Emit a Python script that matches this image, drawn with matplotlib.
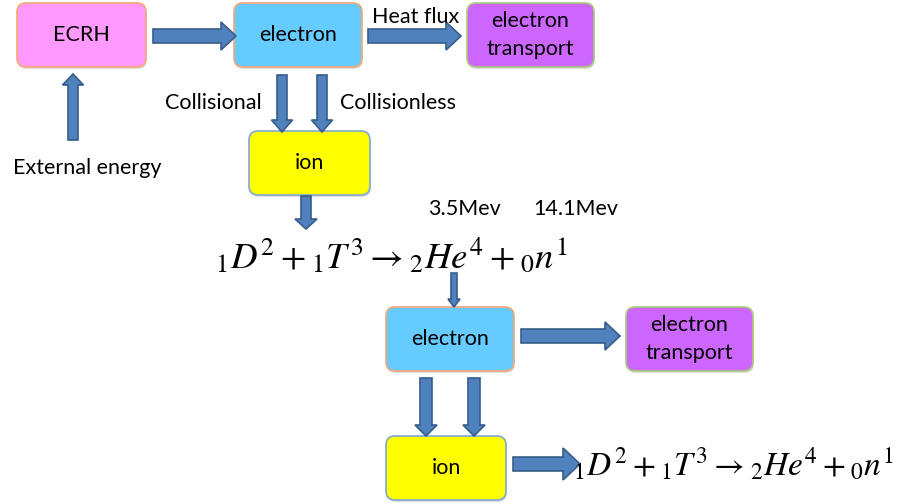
import matplotlib
matplotlib.use("Agg")
import matplotlib.pyplot as plt
from matplotlib.patches import FancyBboxPatch, FancyArrow

plt.rcParams['mathtext.fontset'] = 'stix'
FONT = 'Lato'

# boxes: label, (x0, y0, x1, y1) in pixels, fill, edge
box_labels = ['ECRH', 'electron', 'electron\ntransport', 'ion',
              'electron', 'electron\ntransport', 'ion']
box_fill = ['#FF99FF', '#66CCFF', '#CC66FF', '#FFFF00',
            '#66CCFF', '#CC66FF', '#FFFF00']
box_edge = ['#F5A872', '#F5A872', '#A8CC78', '#7FA8D8',
            '#F5A872', '#A8CC78', '#7FA8D8']
box_xy = [(17, 3, 146, 67), (234, 3, 362, 67), (467, 3, 594, 67),
          (249, 131, 370, 195), (386, 307, 514, 371),
          (626, 307, 753, 371), (386, 436, 506, 500)]

# arrows: start -> end, shaft width, head width, head length
arrows = [((153, 36), (236, 36), 14, 28, 15),
          ((368, 36), (461, 36), 14, 28, 15),
          ((73, 140), (73, 74), 10, 21, 11),
          ((282, 75), (282, 132), 10, 21, 12),
          ((322, 75), (322, 132), 10, 21, 12),
          ((306, 196), (306, 229), 10, 22, 10),
          ((454, 273), (454, 307), 6, 12, 8),
          ((521, 336), (620, 336), 14, 28, 15),
          ((426, 378), (426, 436), 12, 22, 11),
          ((474, 378), (474, 436), 12, 22, 11),
          ((513, 464), (580, 464), 14, 32, 17)]

labels = [('Heat flux', 372, 17, 'left'),
          ('Collisional', 262, 103, 'right'),
          ('Collisionless', 340, 103, 'left'),
          ('External energy', 87, 168, 'center'),
          ('3.5Mev', 428, 209, 'left'),
          ('14.1Mev', 533, 209, 'left')]

equation = r'${}_1D^2+{}_1T^3\rightarrow{}_2He^4+{}_0n^1$'

fig = plt.figure(figsize=(9.02, 5.04), dpi=100)
ax = fig.add_axes([0, 0, 1, 1])
ax.set_xlim(0, 902)
ax.set_ylim(504, 0)
ax.axis('off')

for lab, (x0, y0, x1, y1), fc, ec in zip(box_labels, box_xy, box_fill, box_edge):
    sh = FancyBboxPatch((x0 + 1, y0 + 2), x1 - x0, y1 - y0,
                        boxstyle='round,pad=0,rounding_size=9',
                        fc='#C8C8C8', ec='none', alpha=0.6)
    ax.add_patch(sh)
    b = FancyBboxPatch((x0, y0), x1 - x0, y1 - y0,
                       boxstyle='round,pad=0,rounding_size=9',
                       fc=fc, ec=ec, lw=1.2)
    ax.add_patch(b)
    ax.text((x0 + x1) / 2, (y0 + y1) / 2, lab, ha='center', va='center',
            fontsize=15.5, family=FONT, linespacing=1.45)

for (xs, ys), (xe, ye), w, hw, hl in arrows:
    a = FancyArrow(xs, ys, xe - xs, ye - ys, width=w, head_width=hw,
                   head_length=hl, length_includes_head=True,
                   fc='#4F81BD', ec='#385D8A', lw=1.2)
    ax.add_patch(a)

for txt, x, y, ha in labels:
    ax.text(x, y, txt, ha=ha, va='center', fontsize=15.5, family=FONT)

ax.text(215, 268, equation, fontsize=26.5, ha='left', va='baseline')
ax.text(573, 475, equation, fontsize=24, ha='left', va='baseline')

fig.savefig('out.png', dpi=100)
